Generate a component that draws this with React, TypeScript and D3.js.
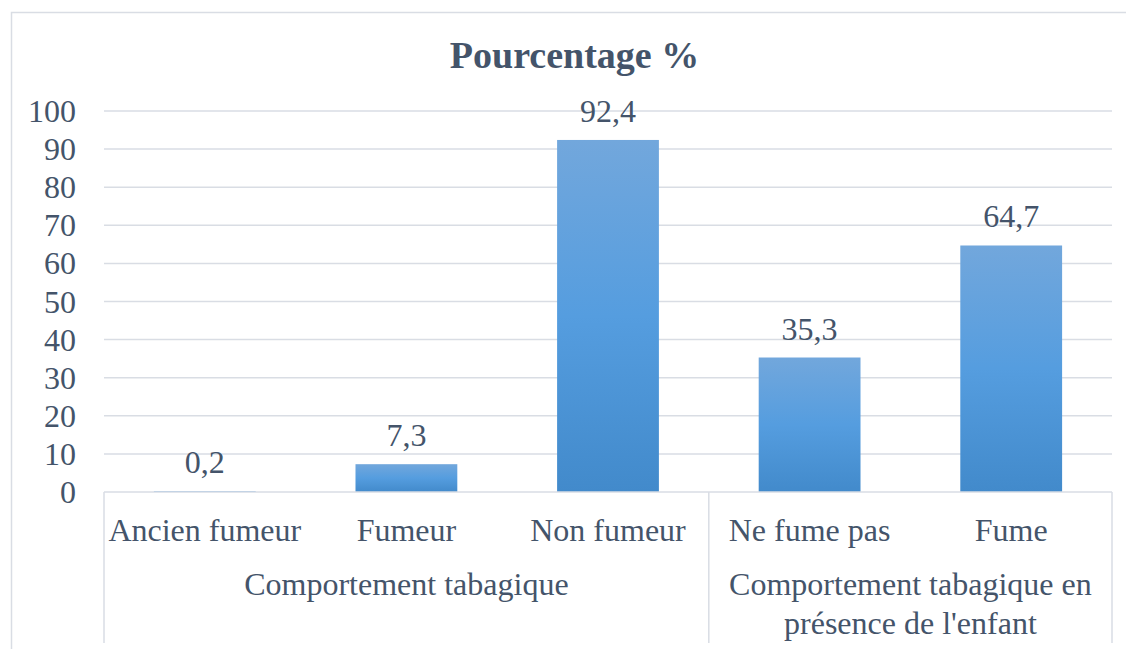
import React from "react";
import * as d3 from "d3";

const categories = ["Ancien fumeur", "Fumeur", "Non fumeur", "Ne fume pas", "Fume"];
const values = [0.2, 7.3, 92.4, 35.3, 64.7];
const labels = ["0,2", "7,3", "92,4", "35,3", "64,7"];
const groups = [
  { lines: ["Comportement tabagique"], start: 0, end: 3 },
  { lines: ["Comportement tabagique en", "présence de l'enfant"], start: 3, end: 5 },
];
const yTicks = [0, 10, 20, 30, 40, 50, 60, 70, 80, 90, 100];
const title = "Pourcentage %";

export default function App() {
  const W = 1126, H = 649;
  const left = 104, right = 1112, top = 111, bottom = 492;
  const x = d3.scaleBand<number>().domain(d3.range(categories.length)).range([left, right]).paddingInner(0).paddingOuter(0);
  const y = d3.scaleLinear().domain([0, 100]).range([bottom, top]);
  const bw = x.bandwidth() * 0.505;
  const txt = "#44546a";
  const grid = "#d9dde4";
  const font = "Liberation Serif";
  const fs = 32;
  return (
    <svg width={W} height={H} style={{ position: "absolute", left: 0, top: 0, display: "block" }}>
      <defs>
        <linearGradient id="barg" x1="0" y1="0" x2="0" y2="1">
          <stop offset="0" stopColor="#72a7dc" />
          <stop offset="0.5" stopColor="#559ddf" />
          <stop offset="1" stopColor="#428acb" />
        </linearGradient>
      </defs>
      <rect x={0} y={0} width={W} height={H} fill="#fff" />
      <rect x={11.5} y={12.5} width={W} height={H} fill="none" stroke={grid} strokeWidth={1.5} />
      <text x={574.5} y={68} textAnchor="middle" fontFamily={font} fontSize={38} fontWeight="bold" fill={txt}>{title}</text>
      {yTicks.map((t) => (
        <g key={t}>
          {t > 0 && <line x1={left} x2={right} y1={y(t)} y2={y(t)} stroke={grid} strokeWidth={1.5} />}
          <text x={76} y={y(t) + 11} textAnchor="end" fontFamily={font} fontSize={fs} fill={txt}>{t}</text>
        </g>
      ))}
      {values.map((v, i) => {
        const cx = x(i)! + x.bandwidth() / 2;
        return (
          <g key={i}>
            <rect x={cx - bw / 2} y={y(v)} width={bw} height={bottom - y(v)} fill="url(#barg)" />
            <text x={cx} y={y(v) - 18} textAnchor="middle" fontFamily={font} fontSize={fs} fill={txt}>{labels[i]}</text>
            <text x={cx} y={541} textAnchor="middle" fontFamily={font} fontSize={fs} fill={txt}>{categories[i]}</text>
          </g>
        );
      })}
      <line x1={left} x2={right} y1={bottom} y2={bottom} stroke={grid} strokeWidth={1.5} />
      {[0, 3, 5].map((k) => {
        const xx = k === 5 ? right : x(k)!;
        return <line key={k} x1={xx} x2={xx} y1={bottom} y2={643} stroke={grid} strokeWidth={1.5} />;
      })}
      {groups.map((g, gi) => {
        const cx = (x(g.start)! + (g.end === categories.length ? right : x(g.end)!)) / 2;
        return (
          <text key={gi} textAnchor="middle" fontFamily={font} fontSize={fs} fill={txt}>
            {g.lines.map((l, li) => (
              <tspan key={li} x={cx} y={595 + li * 39}>{l}</tspan>
            ))}
          </text>
        );
      })}
    </svg>
  );
}
